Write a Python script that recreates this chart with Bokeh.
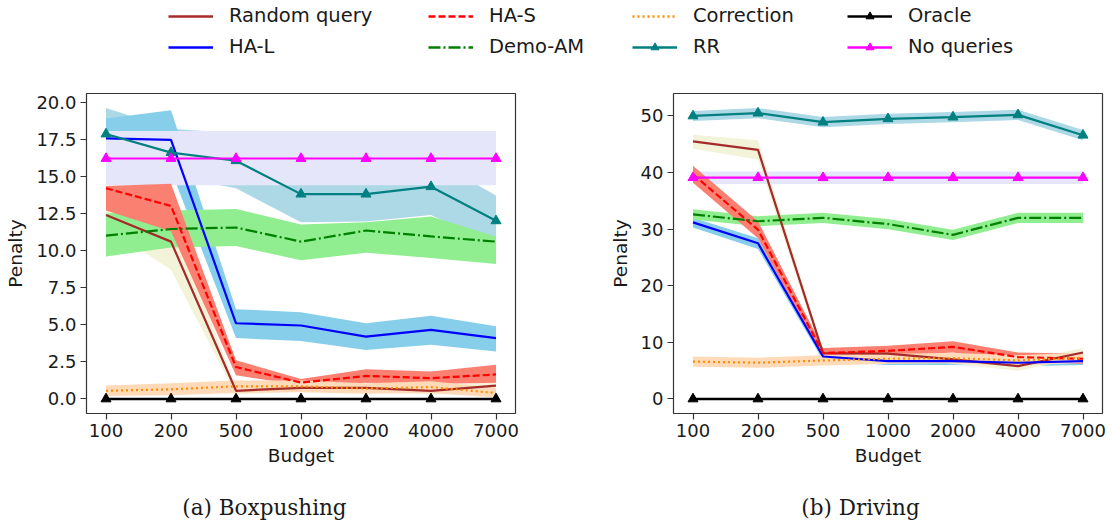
from bokeh.plotting import figure
from bokeh.models import Range1d, FixedTicker, Legend, LegendItem, NumeralTickFormatter
from bokeh.layouts import column, row
from bokeh.embed import file_html
from bokeh.resources import INLINE
from bokeh.core.properties import value

# ---------------- data ----------------
budgets = ["100", "200", "500", "1000", "2000", "4000", "7000"]
captions = ["(a) Boxpushing", "(b) Driving"]
series_names = ["Random query", "HA-L", "HA-S", "Demo-AM", "Correction", "RR", "Oracle", "No queries"]

# (a) Boxpushing
rq_a = [12.4, 10.6, 0.55, 0.75, 0.75, 0.55, 0.9]
rq_a_lo = [11.6, 8.7, 0.3, 0.5, 0.5, 0.3, 0.6]
rq_a_hi = [12.9, 12.3, 0.8, 1.0, 1.0, 0.8, 1.2]
hal_a = [17.55, 17.45, 5.1, 4.95, 4.2, 4.65, 4.1]
hal_a_lo = [16.2, 15.4, 4.1, 3.9, 3.3, 3.65, 3.2]
hal_a_hi = [18.9, 19.45, 6.05, 5.85, 5.1, 5.6, 4.9]
has_a = [14.2, 13.0, 2.15, 1.1, 1.55, 1.4, 1.65]
has_a_lo = [12.7, 11.3, 1.6, 0.9, 1.1, 1.0, 1.1]
has_a_hi = [14.35, 14.5, 2.6, 1.35, 2.0, 1.85, 2.3]
dam_a = [11.0, 11.45, 11.55, 10.6, 11.35, 10.95, 10.6]
dam_a_lo = [9.6, 10.2, 10.3, 9.35, 9.85, 9.5, 9.1]
dam_a_hi = [12.5, 12.7, 12.8, 11.75, 11.9, 12.3, 10.95]
cor_a = [0.55, 0.65, 0.85, 0.85, 0.7, 0.8, 0.4]
cor_a_lo = [0.2, 0.25, 0.4, 0.45, 0.35, 0.4, 0.1]
cor_a_hi = [0.9, 1.05, 1.25, 1.25, 1.05, 1.2, 0.75]
rr_a = [17.85, 16.6, 16.05, 13.8, 13.8, 14.3, 12.0]
rr_a_lo = [16.4, 15.0, 14.2, 11.9, 11.95, 12.4, 10.3]
rr_a_hi = [19.6, 18.2, 17.9, 15.7, 15.6, 16.2, 13.7]
ora_a = [0.0, 0.0, 0.0, 0.0, 0.0, 0.0, 0.0]
nq_a = [16.2, 16.2, 16.2, 16.2, 16.2, 16.2, 16.2]
nq_a_lo = [14.4, 14.4, 14.4, 14.4, 14.4, 14.4, 14.4]
nq_a_hi = [18.05, 18.05, 18.05, 18.05, 18.05, 18.05, 18.05]

# (b) Driving
rq_b = [45.5, 44.0, 8.1, 8.0, 7.0, 5.8, 8.2]
rq_b_lo = [44.2, 42.3, 7.3, 7.2, 6.2, 5.0, 7.4]
rq_b_hi = [46.7, 45.7, 8.9, 8.8, 7.8, 6.6, 9.0]
hal_b = [31.2, 27.5, 7.5, 6.7, 6.7, 6.4, 6.7]
hal_b_lo = [30.3, 26.5, 6.8, 6.0, 6.0, 5.8, 6.0]
hal_b_hi = [32.0, 28.4, 8.2, 7.4, 7.4, 7.1, 7.4]
has_b = [39.7, 29.9, 8.1, 8.5, 9.2, 7.4, 7.1]
has_b_lo = [38.2, 28.4, 7.2, 7.6, 8.2, 6.6, 6.2]
has_b_hi = [41.2, 31.4, 9.0, 9.4, 10.2, 8.2, 8.0]
dam_b = [32.6, 31.4, 32.0, 30.9, 29.0, 32.0, 32.0]
dam_b_lo = [31.7, 30.5, 31.1, 30.0, 28.1, 31.1, 31.1]
dam_b_hi = [33.5, 32.3, 32.9, 31.8, 29.9, 32.9, 32.9]
cor_b = [6.6, 6.4, 6.8, 7.1, 7.2, 6.8, 7.3]
cor_b_lo = [5.7, 5.5, 5.9, 6.2, 6.3, 5.9, 6.4]
cor_b_hi = [7.5, 7.3, 7.7, 8.0, 8.1, 7.7, 8.2]
rr_b = [50.0, 50.5, 48.9, 49.5, 49.8, 50.2, 46.6]
rr_b_lo = [49.1, 49.6, 48.0, 48.6, 48.9, 49.3, 45.7]
rr_b_hi = [50.9, 51.4, 49.8, 50.4, 50.7, 51.1, 47.5]
ora_b = [0.0, 0.0, 0.0, 0.0, 0.0, 0.0, 0.0]
nq_b = [39.1, 39.1, 39.1, 39.1, 39.1, 39.1, 39.1]
nq_b_lo = [38.0, 38.0, 38.0, 38.0, 38.0, 38.0, 38.0]
nq_b_hi = [40.2, 40.2, 40.2, 40.2, 40.2, 40.2, 40.2]

yticks_a = [0.0, 2.5, 5.0, 7.5, 10.0, 12.5, 15.0, 17.5, 20.0]
yticks_b = [0, 10, 20, 30, 40, 50]

# ---------------- styles ----------------
STY = {
    "Random query": dict(color="brown", band="#f3f3da", dash="solid", marker=None),
    "HA-L": dict(color="blue", band="skyblue", dash="solid", marker=None),
    "HA-S": dict(color="red", band="salmon", dash="7 3", marker=None),
    "Demo-AM": dict(color="green", band="lightgreen", dash="12 3 2 3", marker=None),
    "Correction": dict(color="darkorange", band="#ffdab9", dash="2 3", marker=None),
    "RR": dict(color="teal", band="lightblue", dash="solid", marker="triangle"),
    "Oracle": dict(color="black", band=None, dash="solid", marker="triangle"),
    "No queries": dict(color="magenta", band="lavender", dash="solid", marker="triangle"),
}
band_order = ["RR", "HA-L", "Random query", "No queries", "Demo-AM", "HA-S", "Correction"]
FONT = "DejaVu Sans"
TXT = "#1a1a1a"

xs = list(range(len(budgets)))


def make_panel(data, yr, yticks, yfmt, width, bl, br):
    p = figure(width=width, height=400, x_range=Range1d(-0.3, 6.3), y_range=Range1d(*yr),
               output_backend="svg", toolbar_location=None,
               min_border_left=bl, min_border_right=br, min_border_top=13, min_border_bottom=67)
    p.xgrid.visible = False
    p.ygrid.visible = False
    p.outline_line_color = "#333333"
    p.outline_line_width = 1.2
    p.background_fill_color = "white"
    for name in band_order:
        m, lo, hi = data[name]
        p.varea(x=xs, y1=lo, y2=hi, fill_color=STY[name]["band"], fill_alpha=1.0)
    for name in series_names:
        m = data[name][0]
        s = STY[name]
        lw = 2.6 if name == "Oracle" else 2.2
        p.line(xs, m, line_color=s["color"], line_width=lw, line_dash=s["dash"])
        if s["marker"]:
            p.scatter(xs, m, marker=s["marker"], size=10, color=s["color"])
    p.xaxis.ticker = FixedTicker(ticks=xs)
    p.xaxis.major_label_overrides = {i: b for i, b in enumerate(budgets)}
    p.yaxis.ticker = FixedTicker(ticks=yticks)
    p.yaxis.formatter = NumeralTickFormatter(format=yfmt)
    p.xaxis.axis_label = "Budget"
    p.yaxis.axis_label = "Penalty"
    for ax in (p.xaxis, p.yaxis):
        ax.axis_line_color = None
        ax.minor_tick_line_color = None
        ax.major_tick_out = 6
        ax.major_tick_in = 0
        ax.major_tick_line_color = "#333333"
        ax.major_tick_line_width = 1.2
        ax.major_label_text_font = FONT
        ax.major_label_text_font_size = "18px"
        ax.major_label_text_color = TXT
        ax.axis_label_text_font = FONT
        ax.axis_label_text_font_size = "18.5px"
        ax.axis_label_text_font_style = "normal"
        ax.axis_label_text_color = TXT
        ax.major_label_standoff = 4
        ax.axis_label_standoff = 5
    p.yaxis.axis_label_standoff = 7
    return p


data_a = {
    "Random query": (rq_a, rq_a_lo, rq_a_hi),
    "HA-L": (hal_a, hal_a_lo, hal_a_hi),
    "HA-S": (has_a, has_a_lo, has_a_hi),
    "Demo-AM": (dam_a, dam_a_lo, dam_a_hi),
    "Correction": (cor_a, cor_a_lo, cor_a_hi),
    "RR": (rr_a, rr_a_lo, rr_a_hi),
    "Oracle": (ora_a, ora_a, ora_a),
    "No queries": (nq_a, nq_a_lo, nq_a_hi),
}
data_b = {
    "Random query": (rq_b, rq_b_lo, rq_b_hi),
    "HA-L": (hal_b, hal_b_lo, hal_b_hi),
    "HA-S": (has_b, has_b_lo, has_b_hi),
    "Demo-AM": (dam_b, dam_b_lo, dam_b_hi),
    "Correction": (cor_b, cor_b_lo, cor_b_hi),
    "RR": (rr_b, rr_b_lo, rr_b_hi),
    "Oracle": (ora_b, ora_b, ora_b),
    "No queries": (nq_b, nq_b_lo, nq_b_hi),
}

p1 = make_panel(data_a, (-0.98, 20.58), yticks_a, "0.0", 590, 86, 75)
p2 = make_panel(data_b, (-2.57, 53.97), yticks_b, "0", 522, 83, 10)

# ---------------- legend strip ----------------
# The legend's sample glyphs come from proxy renderers whose points lie outside
# this strip's visible range, so only the legend entries themselves are drawn.
lg = figure(width=1112, height=80, x_range=Range1d(0, 1), y_range=Range1d(0, 1),
            output_backend="svg", toolbar_location=None, min_border=0)
lg.axis.visible = False
lg.xgrid.visible = False
lg.ygrid.visible = False
lg.outline_line_color = None

proxy_x = [-5, -4]
proxy_y = [-5, -5]
items = []
for name in series_names:
    s = STY[name]
    rs = [lg.line(proxy_x, proxy_y, line_color=s["color"], line_width=2.4, line_dash=s["dash"])]
    if s["marker"]:
        rs.append(lg.scatter(proxy_x, proxy_y, marker=s["marker"], size=10, color=s["color"]))
    items.append(LegendItem(label=name, renderers=rs))

col_x = [168, 428, 632, 847]
for c in range(4):
    leg = Legend(items=items[2 * c:2 * c + 2], location=(col_x[c], 22),
                 orientation="vertical", padding=0, margin=0, spacing=8,
                 glyph_width=45, glyph_height=20, label_height=20, label_standoff=16,
                 label_text_font=FONT, label_text_font_size="19.5px", label_text_color=TXT,
                 border_line_color=None, background_fill_alpha=0)
    lg.add_layout(leg, "center")

# ---------------- captions strip ----------------
cp = figure(width=1112, height=42, x_range=Range1d(0, 1112), y_range=Range1d(0, 42),
            output_backend="svg", toolbar_location=None, min_border=0)
cp.axis.visible = False
cp.xgrid.visible = False
cp.ygrid.visible = False
cp.outline_line_color = None
cp.text(x=[264, 860], y=[15, 15], text=captions, text_align="center", text_baseline="middle",
        text_font=value("DejaVu Serif"), text_font_size="21.5px", text_color=TXT)

layout = column(lg, row(p1, p2), cp)
open("out.html", "w").write(file_html(layout, INLINE))
